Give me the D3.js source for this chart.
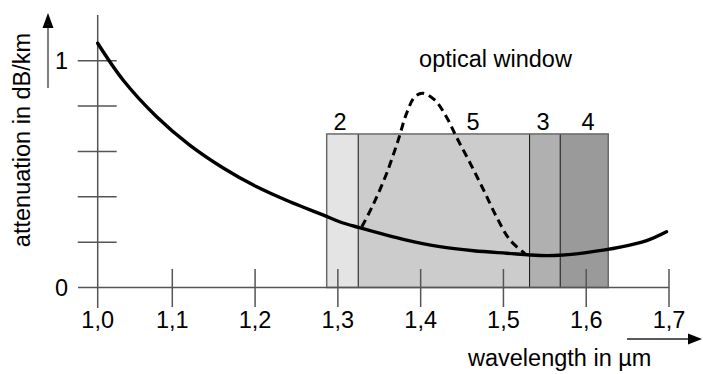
<!DOCTYPE html>
<html>
<head>
<meta charset="utf-8">
<script src="https://cdn.jsdelivr.net/npm/d3@7"></script>
<style>
  html, body { margin: 0; padding: 0; background: #fff; }
  svg { display: block; font-family: "Liberation Sans", Arial, sans-serif; }
</style>
</head>
<body>
<svg id="chart" width="703" height="374"></svg>
<script>
// Fibre attenuation versus wavelength (µm), with the optical windows shaded.
const xTicks = [1.0, 1.1, 1.2, 1.3, 1.4, 1.5, 1.6, 1.7];
const xTickLabels = ["1,0", "1,1", "1,2", "1,3", "1,4", "1,5", "1,6", "1,7"];
const yTicks = [0, 0.2, 0.4, 0.6, 0.8, 1.0];
const yTickLabels = ["0", "", "", "", "", "1"];

// Attenuation of the fibre (solid curve)
const fibreWavelength = [1.000, 1.034, 1.079, 1.121, 1.162, 1.202, 1.242, 1.282, 1.302, 1.325,
                         1.383, 1.423, 1.464, 1.504, 1.544, 1.568, 1.600, 1.641, 1.673, 1.697];
const fibreAttenuation = [1.077, 0.915, 0.753, 0.628, 0.526, 0.444, 0.378, 0.320, 0.290, 0.265,
                          0.209, 0.180, 0.162, 0.151, 0.141, 0.142, 0.154, 0.178, 0.207, 0.246];

// Water (OH) absorption peak (dashed curve)
const peakWavelength = [1.329, 1.343, 1.359, 1.373, 1.383, 1.393, 1.403, 1.417, 1.431,
                        1.444, 1.460, 1.476, 1.492, 1.508, 1.526];
const peakAttenuation = [0.268, 0.368, 0.504, 0.651, 0.768, 0.841, 0.856, 0.827, 0.753,
                         0.658, 0.547, 0.430, 0.309, 0.209, 0.150];

// Optical windows (bands) and their labels
const bandNames = ["2", "5", "3", "4"];
const bandStart = [1.2865, 1.3246, 1.5316, 1.5686];
const bandEnd = [1.3246, 1.5316, 1.5686, 1.6266];
const bandFill = ["#e4e4e4", "#cccccc", "#b0b0b0", "#9a9a9a"];
const bandLabelAt = [1.3025, 1.4632, 1.5477, 1.6021];
const bandTop = 0.677;

const titleText = "optical window";
const xTitle = "wavelength in µm";
const yTitle = "attenuation in dB/km";

const svg = d3.select("#chart");
const x = d3.scaleLinear().domain([1.0, 1.1, 1.7]).range([97.7, 172.3, 669]);
const y = d3.scaleLinear().domain([0, 1]).range([287.5, 60.7]);
const axisColor = "#555";
const fontSize = 23.5;

// shaded bands
const bands = svg.append("g");
bands.selectAll("rect").data(bandNames).join("rect")
  .attr("x", (d, i) => x(bandStart[i]))
  .attr("width", (d, i) => x(bandEnd[i]) - x(bandStart[i]))
  .attr("y", y(bandTop))
  .attr("height", y(0) - y(bandTop))
  .attr("fill", (d, i) => bandFill[i]);
// band dividers
bands.selectAll("line.div").data(bandEnd.slice(0, -1)).join("line")
  .attr("class", "div")
  .attr("x1", d => x(d)).attr("x2", d => x(d))
  .attr("y1", y(bandTop)).attr("y2", y(0))
  .attr("stroke", "#111").attr("stroke-width", 1);
// band outline
bands.append("rect")
  .attr("x", x(bandStart[0]))
  .attr("y", y(bandTop))
  .attr("width", x(bandEnd[bandEnd.length - 1]) - x(bandStart[0]))
  .attr("height", y(0) - y(bandTop))
  .attr("fill", "none").attr("stroke", "#6a6a6a").attr("stroke-width", 1.5);

bands.selectAll("text").data(bandNames).join("text")
  .attr("x", (d, i) => x(bandLabelAt[i]))
  .attr("y", y(bandTop) - 4)
  .attr("text-anchor", "middle")
  .attr("font-size", fontSize)
  .attr("fill", "#000")
  .text(d => d);

// axes
const axes = svg.append("g").attr("stroke", axisColor).attr("stroke-width", 1.5);
axes.append("line").attr("x1", 78).attr("x2", x(1.7)).attr("y1", y(0)).attr("y2", y(0));
axes.append("line").attr("x1", x(1.0)).attr("x2", x(1.0)).attr("y1", 15).attr("y2", 308);
axes.selectAll("line.xt").data(xTicks.slice(1)).join("line").attr("class", "xt")
  .attr("x1", d => x(d)).attr("x2", d => x(d))
  .attr("y1", y(0) - 18.5).attr("y2", y(0) + 19.5);
axes.selectAll("line.yt").data(yTicks.slice(1)).join("line").attr("class", "yt")
  .attr("x1", x(1.0) - 20).attr("x2", x(1.0) + 19)
  .attr("y1", d => y(d)).attr("y2", d => y(d));

svg.append("g").selectAll("text").data(xTicks).join("text")
  .attr("x", d => x(d)).attr("y", 328)
  .attr("text-anchor", "middle").attr("font-size", fontSize)
  .text((d, i) => xTickLabels[i]);

svg.append("g").selectAll("text").data(yTicks).join("text")
  .attr("x", 68).attr("y", d => y(d) + 8)
  .attr("text-anchor", "end").attr("font-size", fontSize)
  .text((d, i) => yTickLabels[i]);

// curves
const line = d3.line().curve(d3.curveCatmullRom.alpha(0.5));
svg.append("path")
  .attr("d", line(peakWavelength.map((w, i) => [x(w), y(peakAttenuation[i])])))
  .attr("fill", "none").attr("stroke", "#000").attr("stroke-width", 3)
  .attr("stroke-dasharray", "8,5");
svg.append("path")
  .attr("d", line(fibreWavelength.map((w, i) => [x(w), y(fibreAttenuation[i])])))
  .attr("fill", "none").attr("stroke", "#000").attr("stroke-width", 3.4)
  .attr("stroke-linecap", "round");

// titles
svg.append("text").attr("x", x(1.4904)).attr("y", 67)
  .attr("text-anchor", "middle").attr("font-size", fontSize).text(titleText);
svg.append("text").attr("x", 468).attr("y", 366)
  .attr("font-size", fontSize).text(xTitle);
svg.append("text").attr("transform", "translate(30,140) rotate(-90)")
  .attr("text-anchor", "middle").attr("font-size", fontSize).text(yTitle);

// direction arrows
svg.append("line").attr("x1", 48).attr("x2", 48).attr("y1", 88).attr("y2", 26)
  .attr("stroke", axisColor).attr("stroke-width", 1.5);
svg.append("path").attr("d", "M48,13 L42.5,28 L53.5,28 Z").attr("fill", "#000");
svg.append("line").attr("x1", 627).attr("x2", 690).attr("y1", 339).attr("y2", 339)
  .attr("stroke", "#222").attr("stroke-width", 1.5);
svg.append("path").attr("d", "M702,339 L688,333.5 L688,344.5 Z").attr("fill", "#000");
</script>
</body>
</html>
